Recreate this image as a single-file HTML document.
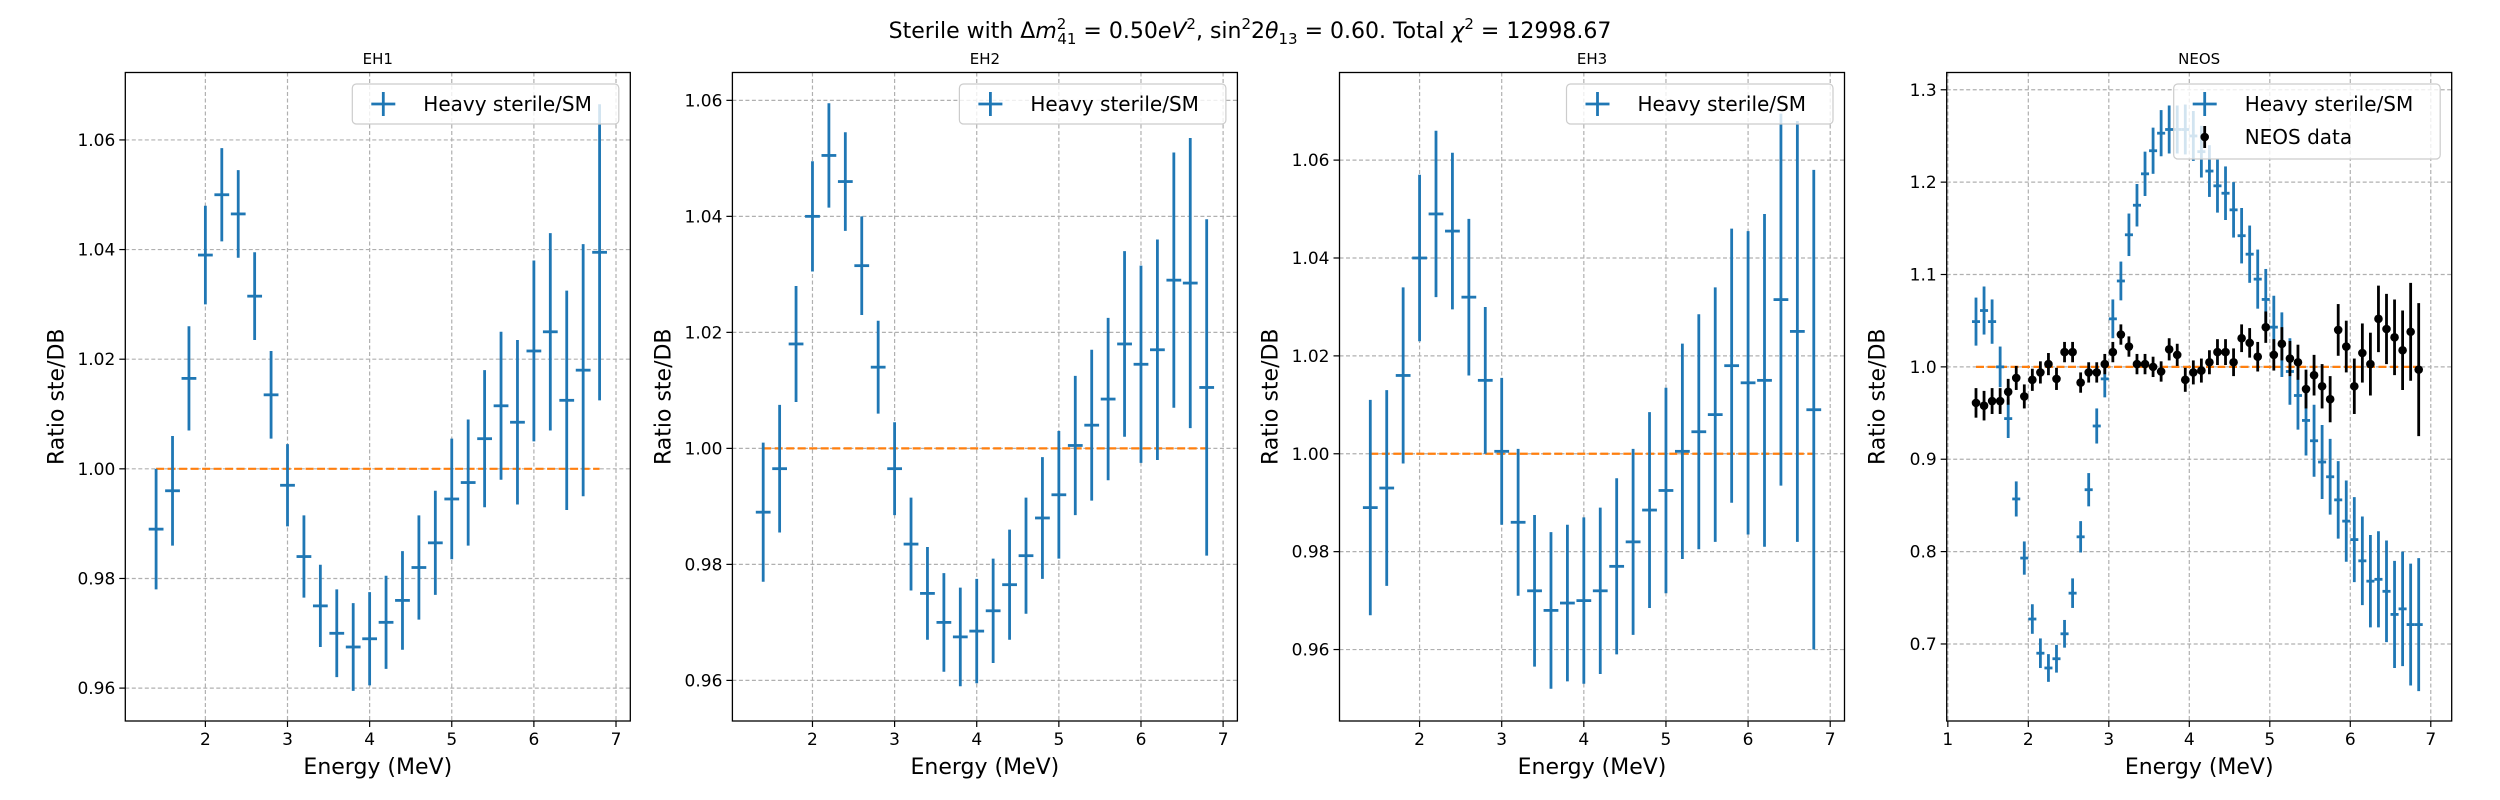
<!DOCTYPE html>
<html><head><meta charset="utf-8"><style>
html,body{margin:0;padding:0;background:#fff;}
svg{display:block;font-family:"DejaVu Sans","Liberation Sans",sans-serif;}
</style></head><body>
<svg id="fig" width="2500" height="800" viewBox="0 0 2500 800" xmlns="http://www.w3.org/2000/svg">
<rect width="2500" height="800" fill="#fff"/>
<text x="1250" y="38" text-anchor="middle" font-size="22">Sterile with Δ<tspan font-style="italic">m</tspan><tspan font-size="15" dy="-9">2</tspan><tspan font-size="15" dx="-9" dy="15">41</tspan><tspan dy="-6"> = 0.50</tspan><tspan font-style="italic">eV</tspan><tspan font-size="15" dy="-9">2</tspan><tspan dy="9">, sin</tspan><tspan font-size="15" dy="-9">2</tspan><tspan dy="9">2</tspan><tspan font-style="italic">θ</tspan><tspan font-size="15" dy="6">13</tspan><tspan dy="-6"> = 0.60. Total </tspan><tspan font-style="italic">χ</tspan><tspan font-size="15" dy="-9">2</tspan><tspan dy="9"> = 12998.67</tspan></text>
</svg>
<script>
const xEH = [1.4,1.6,1.8,2.0,2.2,2.4,2.6,2.8,3.0,3.2,3.4,3.6,3.8,4.0,4.2,4.4,4.6,4.8,5.0,5.2,5.4,5.6,5.8,6.0,6.2,6.4,6.6,6.8];
const eh1Val = [0.989,0.996,1.0165,1.039,1.050,1.0465,1.0315,1.0135,0.997,0.984,0.975,0.970,0.9675,0.969,0.972,0.976,0.982,0.9865,0.9945,0.9975,1.0055,1.0115,1.0085,1.0215,1.025,1.0125,1.018,1.0395];
const eh1Err = [0.011,0.010,0.0095,0.009,0.0085,0.008,0.008,0.008,0.0075,0.0075,0.0075,0.008,0.008,0.0085,0.0085,0.009,0.0095,0.0095,0.011,0.0115,0.0125,0.0135,0.015,0.0165,0.018,0.020,0.023,0.027];
const eh2Val = [0.989,0.9965,1.018,1.040,1.0505,1.046,1.0315,1.014,0.9965,0.9835,0.975,0.970,0.9675,0.9685,0.972,0.9765,0.9815,0.988,0.992,1.0005,1.004,1.0085,1.018,1.0145,1.017,1.029,1.0285,1.0105];
const eh2Err = [0.012,0.011,0.010,0.0095,0.009,0.0085,0.0085,0.008,0.008,0.008,0.008,0.0085,0.0085,0.009,0.009,0.0095,0.010,0.0105,0.011,0.012,0.013,0.014,0.016,0.017,0.019,0.022,0.025,0.029];
const eh3Val = [0.989,0.993,1.016,1.040,1.049,1.0455,1.032,1.015,1.0005,0.986,0.972,0.968,0.9695,0.970,0.972,0.977,0.982,0.9885,0.9925,1.0005,1.0045,1.008,1.018,1.0145,1.015,1.0315,1.025,1.009];
const eh3Err = [0.022,0.020,0.018,0.017,0.017,0.016,0.016,0.015,0.015,0.015,0.0155,0.016,0.016,0.017,0.017,0.018,0.019,0.020,0.021,0.022,0.024,0.026,0.028,0.031,0.034,0.038,0.043,0.049];
const xNEOS = [1.35,1.45,1.55,1.65,1.75,1.85,1.95,2.05,2.15,2.25,2.35,2.45,2.55,2.65,2.75,2.85,2.95,3.05,3.15,3.25,3.35,3.45,3.55,3.65,3.75,3.85,3.95,4.05,4.15,4.25,4.35,4.45,4.55,4.65,4.75,4.85,4.95,5.05,5.15,5.25,5.35,5.45,5.55,5.65,5.75,5.85,5.95,6.05,6.15,6.25,6.35,6.45,6.55,6.65,6.75,6.85];
const neosModel = [1.049,1.061,1.049,1.000,0.944,0.857,0.793,0.727,0.690,0.674,0.684,0.711,0.755,0.816,0.867,0.936,0.987,1.052,1.093,1.143,1.175,1.209,1.234,1.253,1.257,1.257,1.257,1.250,1.233,1.212,1.196,1.188,1.170,1.142,1.122,1.095,1.073,1.043,1.024,0.995,0.969,0.942,0.920,0.897,0.881,0.856,0.833,0.813,0.790,0.768,0.770,0.757,0.732,0.738,0.721,0.721];
const neosModelErr = [0.026,0.026,0.024,0.022,0.021,0.019,0.018,0.016,0.016,0.015,0.015,0.015,0.016,0.017,0.018,0.019,0.020,0.021,0.021,0.023,0.023,0.024,0.025,0.025,0.026,0.026,0.027,0.027,0.028,0.028,0.029,0.029,0.030,0.030,0.031,0.032,0.033,0.034,0.035,0.036,0.037,0.038,0.039,0.040,0.041,0.042,0.044,0.046,0.048,0.050,0.052,0.055,0.058,0.062,0.066,0.072];
const neosData = [0.961,0.958,0.963,0.963,0.973,0.988,0.968,0.986,0.994,1.003,0.987,1.016,1.016,0.983,0.994,0.994,1.003,1.016,1.035,1.022,1.003,1.003,1.000,0.995,1.019,1.013,0.986,0.994,0.996,1.005,1.016,1.016,1.005,1.031,1.026,1.011,1.043,1.013,1.025,1.009,1.005,0.976,0.991,0.979,0.965,1.040,1.022,0.979,1.015,1.003,1.052,1.041,1.032,1.018,1.038,0.997];
const neosDataErr = [0.016,0.016,0.014,0.014,0.014,0.013,0.013,0.012,0.012,0.012,0.012,0.011,0.011,0.011,0.011,0.011,0.011,0.011,0.011,0.011,0.011,0.011,0.011,0.011,0.012,0.012,0.013,0.013,0.013,0.013,0.014,0.014,0.015,0.015,0.016,0.016,0.017,0.017,0.018,0.019,0.019,0.021,0.022,0.024,0.025,0.028,0.028,0.030,0.032,0.034,0.036,0.038,0.041,0.043,0.053,0.072];
const ehTicksY = [0.96,0.98,1.00,1.02,1.04,1.06];
const ehTickLabelsY = ["0.96","0.98","1.00","1.02","1.04","1.06"];
const neosTicksY = [0.7,0.8,0.9,1.0,1.1,1.2,1.3];
const neosTickLabelsY = ["0.7","0.8","0.9","1.0","1.1","1.2","1.3"];
const ehTicksX = [2,3,4,5,6,7];
const neosTicksX = [1,2,3,4,5,6,7];
const panelTitles = ["EH1","EH2","EH3","NEOS"];

const NS = "http://www.w3.org/2000/svg";
const svg = document.getElementById('fig');
const BLUE = "#1f77b4";
function mk(tag, attrs, parent){
  const e = document.createElementNS(NS, tag);
  for (const k in attrs) e.setAttribute(k, attrs[k]);
  (parent||svg).appendChild(e);
  return e;
}
const TOP = 72.5, BOT = 721, W = 505;
const panels = [
  {left:125.3, xmin:1.025, xmax:7.174, ymin:0.954, ymax:1.0723, val:eh1Val, err:eh1Err, x:xEH, xerr:0.09, ticksY:ehTicksY, labY:ehTickLabelsY, ticksX:ehTicksX},
  {left:732.4, xmin:1.025, xmax:7.174, ymin:0.953, ymax:1.0648, val:eh2Val, err:eh2Err, x:xEH, xerr:0.09, ticksY:ehTicksY, labY:ehTickLabelsY, ticksX:ehTicksX},
  {left:1339.5, xmin:1.025, xmax:7.174, ymin:0.9454, ymax:1.0779, val:eh3Val, err:eh3Err, x:xEH, xerr:0.09, ticksY:ehTicksY, labY:ehTickLabelsY, ticksX:ehTicksX},
  {left:1946.7, xmin:0.986, xmax:7.26, ymin:0.6166, ymax:1.3187, val:neosModel, err:neosModelErr, x:xNEOS, xerr:0.05, ticksY:neosTicksY, labY:neosTickLabelsY, ticksX:neosTicksX, neos:true}
];
panels.forEach((p, pi) => {
  const g = mk('g', {});
  
  
  const sx = v => p.left + (v - p.xmin) / (p.xmax - p.xmin) * W;
  const sy = v => BOT - (v - p.ymin) / (p.ymax - p.ymin) * (BOT - TOP);
  p.ticksX.forEach(t => {
    const l = mk('line', {x1:sx(t), x2:sx(t), y1:TOP, y2:BOT, stroke:"#b0b0b0", "stroke-width":1.2, "stroke-dasharray":"4,2.5"}, g);
    
    
    const tk = mk('line', {x1:sx(t), x2:sx(t), y1:BOT, y2:BOT+6, stroke:"#000", "stroke-width":1.2}, g);
    
    
    const tl = mk('text', {x:sx(t), y:BOT+24, "text-anchor":"middle", "font-size":17}, g);
    tl.textContent = String(t);
    
    
  });
  p.ticksY.forEach((t, i) => {
    const l = mk('line', {x1:p.left, x2:p.left+W, y1:sy(t), y2:sy(t), stroke:"#b0b0b0", "stroke-width":1.2, "stroke-dasharray":"4,2.5"}, g);
    
    
    const tk = mk('line', {x1:p.left-6, x2:p.left, y1:sy(t), y2:sy(t), stroke:"#000", "stroke-width":1.2}, g);
    
    
    const tl = mk('text', {x:p.left-10, y:sy(t)+6, "text-anchor":"end", "font-size":17}, g);
    tl.textContent = p.labY[i];
    
    
  });
  const x0 = p.x[0], x1 = p.x[p.x.length-1];
  const ref = mk('line', {x1:sx(x0), x2:sx(x1), y1:sy(1), y2:sy(1), stroke:"#ff7f0e", "stroke-width":2.2, "stroke-dasharray":"8,3.5"}, g);
  
  
  p.x.forEach((xv, i) => {
    const eg = mk('g', {stroke:BLUE, "stroke-width":2.8}, g);
    
    
    mk('line', {x1:sx(xv), x2:sx(xv), y1:sy(p.val[i]-p.err[i]), y2:sy(p.val[i]+p.err[i])}, eg);
    mk('line', {x1:sx(xv-p.xerr), x2:sx(xv+p.xerr), y1:sy(p.val[i]), y2:sy(p.val[i])}, eg);
  });
  if (p.neos) {
    xNEOS.forEach((xv, i) => {
      const dg = mk('g', {}, g);
      
      
      mk('line', {x1:sx(xv), x2:sx(xv), y1:sy(neosData[i]-neosDataErr[i]), y2:sy(neosData[i]+neosDataErr[i]), stroke:"#000", "stroke-width":2.8}, dg);
      mk('circle', {cx:sx(xv), cy:sy(neosData[i]), r:4.3, fill:"#000"}, dg);
    });
  }
  const fr = mk('rect', {x:p.left, y:TOP, width:W, height:BOT-TOP, fill:"none", stroke:"#000", "stroke-width":1.3}, g);
  
  
  const tt = mk('text', {x:p.left+W/2, y:64, "text-anchor":"middle", "font-size":15}, g);
  tt.textContent = panelTitles[pi];
  
  
  const xl = mk('text', {x:p.left+W/2, y:774, "text-anchor":"middle", "font-size":22}, g);
  xl.textContent = "Energy (MeV)";
  
  
  const yx = p.left - 62, yy = (TOP+BOT)/2;
  const yl = mk('text', {x:yx, y:yy, "text-anchor":"middle", "font-size":22, transform:`rotate(-90 ${yx} ${yy})`}, g);
  yl.textContent = "Ratio ste/DB";
  
  
  const right = p.left + W;
  const lg = mk('g', {}, g);
  
  
  const lh = p.neos ? 75 : 40;
  mk('rect', {x:right-278, y:84, width:266.5, height:lh, rx:4, fill:"#fff", "fill-opacity":0.8, stroke:"#cccccc", "stroke-width":1.2}, lg);
  const hx = right - 247, r1 = 104;
  const h1 = mk('g', {stroke:BLUE, "stroke-width":2.8}, lg);
  
  
  mk('line', {x1:hx, x2:hx, y1:r1-12, y2:r1+12}, h1);
  mk('line', {x1:hx-12, x2:hx+12, y1:r1, y2:r1}, h1);
  const t1 = mk('text', {x:right-207, y:r1+7, "font-size":20, fill:"#000", stroke:"none"}, lg);
  t1.textContent = "Heavy sterile/SM";
  if (p.neos) {
    const r2 = 137;
    const h2 = mk('g', {}, lg);
    
    
    mk('line', {x1:hx, x2:hx, y1:r2-11, y2:r2+11, stroke:"#000", "stroke-width":2.8}, h2);
    mk('circle', {cx:hx, cy:r2, r:4.3, fill:"#000"}, h2);
    const t2 = mk('text', {x:right-207, y:r2+7, "font-size":20}, lg);
    t2.textContent = "NEOS data";
  }
});
</script>
</body></html>
